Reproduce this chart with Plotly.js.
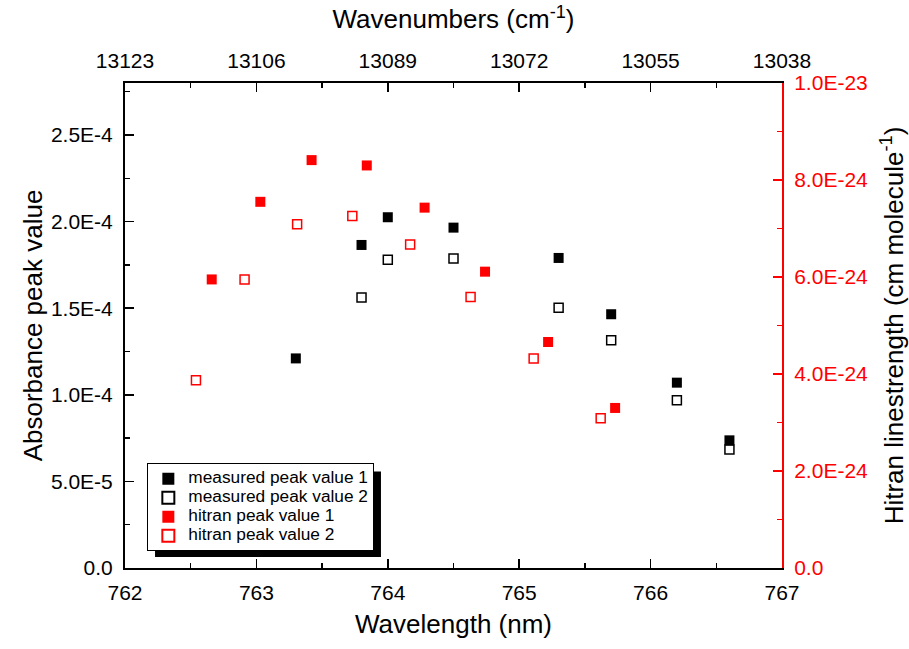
<!DOCTYPE html>
<html>
<head>
<meta charset="utf-8">
<script src="https://cdn.plot.ly/plotly-3.0.1.min.js"></script>
<style>
  html, body { margin: 0; padding: 0; background: #ffffff; }
  #chart { width: 909px; height: 649px; }
</style>
</head>
<body>
<div id="chart"></div>
<script>
// ---- data ----
const measuredWavelength = [763.3, 763.8, 764.0, 764.5, 765.3, 765.7, 766.2, 766.6];
const measuredPeak1 = [1.21e-4, 1.865e-4, 2.025e-4, 1.965e-4, 1.79e-4, 1.465e-4, 1.07e-4, 0.737e-4];
const measuredPeak2 = [null, 1.561e-4, 1.78e-4, 1.787e-4, 1.503e-4, 1.315e-4, 0.969e-4, 0.684e-4];

const hitranWavelength1 = [762.66, 763.03, 763.42, 763.84, 764.28, 764.74, 765.22, 765.73];
const hitranPeak1 = [5.95e-24, 7.55e-24, 8.41e-24, 8.30e-24, 7.43e-24, 6.11e-24, 4.66e-24, 3.30e-24];
const hitranWavelength2 = [762.54, 762.91, 763.31, 763.73, 764.17, 764.63, 765.11, 765.62];
const hitranPeak2 = [3.87e-24, 5.95e-24, 7.09e-24, 7.26e-24, 6.67e-24, 5.59e-24, 4.32e-24, 3.09e-24];

const wavelengthTicks = [762, 763, 764, 765, 766, 767];
const wavenumberLabels = ["13123", "13106", "13089", "13072", "13055", "13038"];
const absorbanceTicks = [0, 0.5e-4, 1.0e-4, 1.5e-4, 2.0e-4, 2.5e-4];
const absorbanceLabels = ["0.0", "5.0E-5", "1.0E-4", "1.5E-4", "2.0E-4", "2.5E-4"];
const linestrengthTicks = [0, 2e-24, 4e-24, 6e-24, 8e-24, 1e-23];
const linestrengthLabels = ["0.0", "2.0E-24", "4.0E-24", "6.0E-24", "8.0E-24", "1.0E-23"];

const seriesNames = ["measured peak value 1", "measured peak value 2", "hitran peak value 1", "hitran peak value 2"];

// ---- chart ----
const FONT = "Liberation Sans, Arial, sans-serif";
const RED = "#ff0000";
const legendLabel = (s) => '<span style="font-size:17.3px">' + s + '</span>';

const traces = [
  { x: measuredWavelength, y: measuredPeak1, name: legendLabel(seriesNames[0]), type: "scatter", mode: "markers",
    marker: { symbol: "square", size: 10, color: "#000000" }, xaxis: "x", yaxis: "y" },
  { x: measuredWavelength, y: measuredPeak2, name: legendLabel(seriesNames[1]), type: "scatter", mode: "markers",
    marker: { symbol: "square-open", size: 9, color: "#000000", line: { width: 1.5, color: "#000000" } }, xaxis: "x", yaxis: "y" },
  { x: hitranWavelength1, y: hitranPeak1, name: legendLabel(seriesNames[2]), type: "scatter", mode: "markers",
    marker: { symbol: "square", size: 10, color: RED }, xaxis: "x", yaxis: "y2" },
  { x: hitranWavelength2, y: hitranPeak2, name: legendLabel(seriesNames[3]), type: "scatter", mode: "markers",
    marker: { symbol: "square-open", size: 9, color: RED, line: { width: 1.5, color: RED } }, xaxis: "x", yaxis: "y2" },
  { x: wavelengthTicks, y: wavelengthTicks.map(() => null), type: "scatter", mode: "markers",
    showlegend: false, hoverinfo: "skip", xaxis: "x2", yaxis: "y" }
];

const commonAxis = {
  showgrid: false, zeroline: false, showline: true, linewidth: 2,
  ticks: "inside", ticklen: 9, tickwidth: 1.5
};
const TICKSIZE = 21;
const TITLESIZE = 26;

const layout = {
  width: 909, height: 649,
  margin: { l: 125, r: 127, t: 83, b: 81, pad: 0 },
  paper_bgcolor: "#ffffff", plot_bgcolor: "#ffffff",
  font: { family: FONT, color: "#000000" },
  showlegend: true,
  xaxis: Object.assign({}, commonAxis, {
    range: [762, 767], tickmode: "array", tickvals: wavelengthTicks,
    linecolor: "#000000", tickcolor: "#000000",
    minor: { tickmode: "linear", tick0: 762, dtick: 0.5, ticks: "inside", ticklen: 5, tickwidth: 1.5, tickcolor: "#000000" },
    tickfont: { size: TICKSIZE, color: "#000000" }, ticklabelstandoff: 5,
    title: { text: "Wavelength (nm)", font: { size: TITLESIZE, color: "#000000" }, standoff: 12 }
  }),
  xaxis2: Object.assign({}, commonAxis, {
    overlaying: "x", side: "top", anchor: "y",
    range: [762, 767], tickmode: "array", tickvals: wavelengthTicks, ticktext: wavenumberLabels,
    linecolor: "#000000", tickcolor: "#000000",
    minor: { tickmode: "linear", tick0: 762, dtick: 0.5, ticks: "inside", ticklen: 5, tickwidth: 1.5, tickcolor: "#000000" },
    tickfont: { size: TICKSIZE, color: "#000000" }, ticklabelstandoff: 5,
    title: { text: "Wavenumbers (cm<sup>-1</sup>)", font: { size: TITLESIZE, color: "#000000" }, standoff: 12 }
  }),
  yaxis: Object.assign({}, commonAxis, {
    range: [0, 2.8e-4], tickmode: "array", tickvals: absorbanceTicks, ticktext: absorbanceLabels,
    linecolor: "#000000", tickcolor: "#000000",
    minor: { tickmode: "linear", tick0: 0, dtick: 0.25e-4, ticks: "inside", ticklen: 5, tickwidth: 1.5, tickcolor: "#000000" },
    tickfont: { size: TICKSIZE, color: "#000000" }, ticklabelstandoff: 6,
    title: { text: "Absorbance peak value", font: { size: TITLESIZE, color: "#000000" }, standoff: 1 }
  }),
  yaxis2: Object.assign({}, commonAxis, {
    overlaying: "y", side: "right", anchor: "x",
    range: [0, 1e-23], tickmode: "array", tickvals: linestrengthTicks, ticktext: linestrengthLabels,
    linecolor: RED, tickcolor: RED,
    minor: { tickmode: "linear", tick0: 0, dtick: 1e-24, ticks: "inside", ticklen: 5, tickwidth: 1.5, tickcolor: RED },
    tickfont: { size: TICKSIZE, color: RED }, ticklabelstandoff: 6,
    title: { text: "Hitran linestrength (cm molecule<sup>-1</sup>)", font: { size: TITLESIZE, color: "#000000" }, standoff: 18 }
  }),
  legend: {
    x: 0.034, y: 0.216, xanchor: "left", yanchor: "top",
    bgcolor: "#ffffff", bordercolor: "#000000", borderwidth: 1,
    font: { size: 12, color: "#000000", family: FONT },
    tracegroupgap: 0, itemsizing: "constant"
  },
  shapes: [
    { type: "rect", xref: "paper", yref: "paper", x0: 0.0457, x1: 0.3896, y0: 0.0227, y1: 0.199,
      fillcolor: "#000000", line: { width: 0 }, layer: "above" }
  ]
};

Plotly.newPlot("chart", traces, layout, { displayModeBar: false, staticPlot: true });
</script>
</body>
</html>
